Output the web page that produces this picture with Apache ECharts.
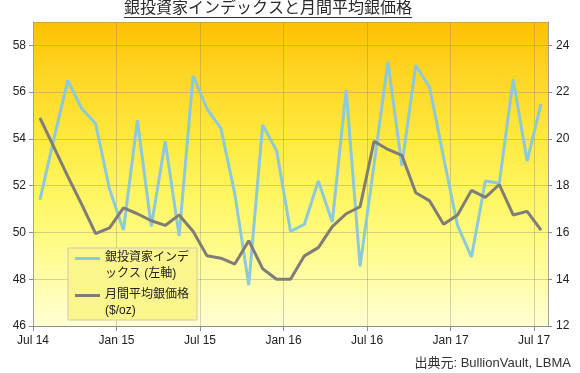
<!DOCTYPE html>
<html>
<head>
<meta charset="utf-8">
<script src="https://cdn.jsdelivr.net/npm/echarts@6/dist/echarts.min.js"></script>
<style>
html,body{margin:0;padding:0;background:#fff;}
#chart{width:580px;height:373px;}
</style>
</head>
<body>
<div id="chart"></div>
<script>
// ---- data ----
const months = ['Jul 14','Aug 14','Sep 14','Oct 14','Nov 14','Dec 14',
  'Jan 15','Feb 15','Mar 15','Apr 15','May 15','Jun 15','Jul 15','Aug 15','Sep 15','Oct 15','Nov 15','Dec 15',
  'Jan 16','Feb 16','Mar 16','Apr 16','May 16','Jun 16','Jul 16','Aug 16','Sep 16','Oct 16','Nov 16','Dec 16',
  'Jan 17','Feb 17','Mar 17','Apr 17','May 17','Jun 17','Jul 17'];
const tickLabels = ['Jul 14','Jan 15','Jul 15','Jan 16','Jul 16','Jan 17','Jul 17'];
const investorIndex = [51.4,54.0,56.5,55.3,54.65,51.85,50.1,54.8,50.25,53.9,49.85,56.7,55.3,54.45,51.65,47.75,54.6,53.5,
  50.05,50.35,52.2,50.45,56.1,48.55,52.9,57.3,52.85,57.15,56.2,53.2,50.3,48.95,52.2,52.1,56.55,53.05,55.5];
const silverPrice = [20.9,19.65,18.4,17.2,15.95,16.2,17.05,16.8,16.5,16.3,16.75,16.05,15.0,14.9,14.65,15.65,14.45,14.0,
  14.0,15.0,15.35,16.25,16.8,17.1,19.9,19.55,19.3,17.7,17.35,16.35,16.75,17.8,17.5,18.05,16.75,16.9,16.1];
const seriesNames = ['銀投資家インデ\nックス (左軸)', '月間平均銀価格\n($/oz)'];
const titleText = '銀投資家インデックスと月間平均銀価格';
const sourceText = '出典元: BullionVault, LBMA';

// ---- chart ----
const FONT = "'Liberation Sans', 'Noto Sans CJK JP', sans-serif";
const chart = echarts.init(document.getElementById('chart'), null, {renderer: 'canvas'});
const toPoints = arr => arr.map((v, i) => [i + 0.5, v]); // mid-month placement on month axis
const legendIcon = 'path://M0,0h0.01v0.01h-0.01Z M0,7h25v3h-25Z M24.99,31.99h0.01v0.01h-0.01Z';
const gridColor = 'rgba(120,120,120,0.33)';

chart.setOption({
  backgroundColor: '#ffffff',
  textStyle: {fontFamily: FONT},
  animation: false,
  title: [
    {text: titleText, left: 124, top: 1, padding: 0,
     textStyle: {fontSize: 16, fontWeight: 'normal', color: '#2a2a2a', fontFamily: FONT}},
    {text: sourceText, right: 9, bottom: 3, padding: 0,
     textStyle: {fontSize: 13, fontWeight: 'normal', color: '#333', fontFamily: FONT}}
  ],
  graphic: [
    {type: 'line', shape: {x1: 124, y1: 17.5, x2: 412, y2: 17.5}, style: {stroke: '#333', lineWidth: 1}}
  ],
  grid: {
    left: 33, right: 32, top: 22, bottom: 47, show: true, borderWidth: 0,
    backgroundColor: new echarts.graphic.LinearGradient(0, 0, 0, 1, [
      {offset: 0, color: '#FFC000'},
      {offset: 0.16, color: '#FFD422'},
      {offset: 0.38, color: '#FFE93E'},
      {offset: 0.54, color: '#FFF45C'},
      {offset: 0.69, color: '#FFFA7C'},
      {offset: 0.85, color: '#FFFDA8'},
      {offset: 1, color: '#FFFFD4'}
    ])
  },
  legend: {
    left: 68, top: 248, orient: 'vertical',
    padding: [2, 8, 1, 7],
    itemWidth: 25, itemHeight: 32, itemGap: 5,
    icon: legendIcon,
    itemStyle: {borderWidth: 0},
    backgroundColor: '#FBF58E', borderColor: '#CFC9A8', borderWidth: 1,
    textStyle: {fontSize: 12, lineHeight: 16, color: '#222', fontFamily: FONT},
    data: seriesNames
  },
  xAxis: {
    type: 'value', min: 0, max: months.length, interval: 6,
    axisLine: {show: true, lineStyle: {color: '#8C8C8C'}},
    axisTick: {show: true, length: 5, lineStyle: {color: '#8C8C8C'}},
    axisLabel: {
      color: '#222', fontSize: 12, margin: 9, showMaxLabel: false, fontFamily: FONT,
      formatter: v => (v % 6 === 0 && tickLabels[v / 6] !== undefined) ? tickLabels[v / 6] : ''
    },
    splitLine: {show: true, lineStyle: {color: gridColor}}
  },
  yAxis: [
    {
      type: 'value', min: 46, max: 59, interval: 2, position: 'left',
      axisLine: {show: true, lineStyle: {color: '#A0A0A0'}},
      axisTick: {show: true, length: 4, lineStyle: {color: '#8C8C8C'}},
      axisLabel: {color: '#222', fontSize: 12, margin: 7, showMaxLabel: false, fontFamily: FONT},
      splitLine: {show: true, lineStyle: {color: gridColor}}
    },
    {
      type: 'value', min: 12, max: 25, interval: 2, position: 'right',
      axisLine: {show: true, lineStyle: {color: '#A0A0A0'}},
      axisTick: {show: true, length: 4, lineStyle: {color: '#8C8C8C'}},
      axisLabel: {color: '#222', fontSize: 12, margin: 8, showMaxLabel: false, fontFamily: FONT},
      splitLine: {show: false}
    }
  ],
  series: [
    {
      name: seriesNames[0], type: 'line', yAxisIndex: 0, symbol: 'none',
      data: toPoints(investorIndex),
      lineStyle: {color: '#8CC9DB', width: 3},
      itemStyle: {color: '#8CC9DB'}
    },
    {
      name: seriesNames[1], type: 'line', yAxisIndex: 1, symbol: 'none',
      data: toPoints(silverPrice),
      lineStyle: {color: '#807C78', width: 3},
      itemStyle: {color: '#807C78'}
    }
  ]
});
</script>
</body>
</html>
